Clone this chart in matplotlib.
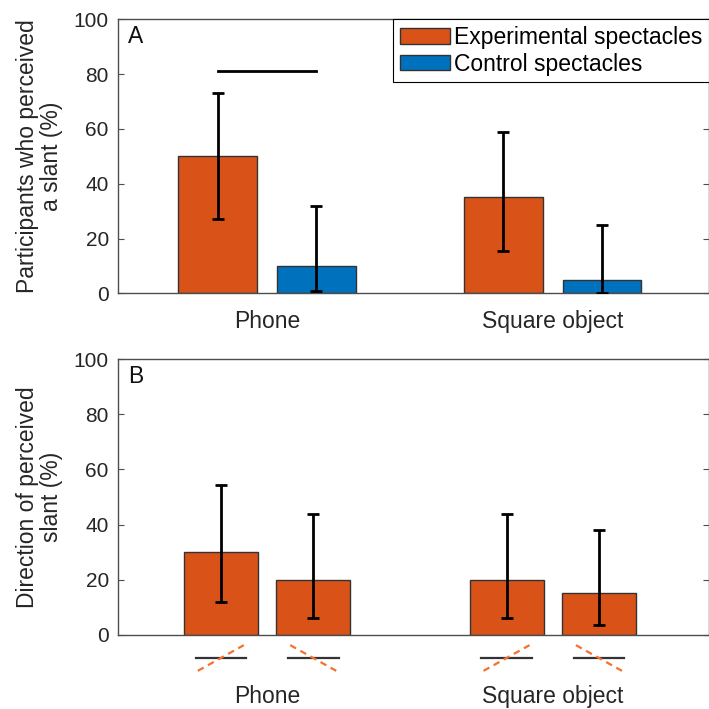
import matplotlib.pyplot as plt
from matplotlib.transforms import blended_transform_factory

plt.rcParams['font.family'] = ['Liberation Sans', 'DejaVu Sans']
plt.rcParams['font.size'] = 15

# data
categories = ['Phone', 'Square object']
group_pos = [1, 2]

# panel A - participants who perceived a slant (%)
exp_slant = [50, 35]
exp_slant_lo = [27, 15.5]
exp_slant_hi = [73, 59]
ctl_slant = [10, 5]
ctl_slant_lo = [1, 0.2]
ctl_slant_hi = [32, 25]
sig_level = 81

# panel B - direction of perceived slant (%), experimental spectacles only
dir_up = [30, 20]          # "/" direction
dir_up_lo = [12, 6]
dir_up_hi = [54.5, 44]
dir_down = [20, 15]        # "\" direction
dir_down_lo = [6, 3.5]
dir_down_hi = [44, 38]

orange = '#D95319'
blue = '#0072BD'
edge = '#333333'
spine_col = '#4d4d4d'
txt_col = '#262626'
big = 16.5


def style_axes(ax, label_pad):
    ax.set_ylim(0, 100)
    ax.set_yticks([0, 20, 40, 60, 80, 100])
    ax.set_xlim(0.48, 2.547)
    ax.set_xticks(group_pos)
    ax.set_xticklabels(categories, fontsize=big)
    ax.tick_params(axis='y', direction='in', length=4.3, width=0.8, color=spine_col,
                   right=True, pad=7, labelcolor=txt_col)
    ax.tick_params(axis='x', length=0, pad=label_pad, labelcolor=txt_col)
    for s in ax.spines.values():
        s.set_color(spine_col)
        s.set_linewidth(1.0)


def errbars(ax, x, y, lo, hi):
    yerr = [[v - l for v, l in zip(y, lo)], [h - v for v, h in zip(y, hi)]]
    ax.errorbar(x, y, yerr=yerr, fmt='none', ecolor='black', elinewidth=2,
                capsize=4, capthick=2, zorder=3)


fig = plt.figure(figsize=(7.09, 7.09), dpi=100)
axA = fig.add_axes([0.1671, 0.5863, 0.8329, 0.3865])
axB = fig.add_axes([0.1671, 0.1048, 0.8329, 0.3884])

# ---- panel A
offA = 0.1725
wA = 0.276
xa_exp = [g - offA for g in group_pos]
xa_ctl = [g + offA for g in group_pos]
axA.bar(xa_exp, exp_slant, width=wA, color=orange, edgecolor=edge, linewidth=1,
        label='Experimental spectacles', zorder=2)
axA.bar(xa_ctl, ctl_slant, width=wA, color=blue, edgecolor=edge, linewidth=1,
        label='Control spectacles', zorder=2)
errbars(axA, xa_exp, exp_slant, exp_slant_lo, exp_slant_hi)
errbars(axA, xa_ctl, ctl_slant, ctl_slant_lo, ctl_slant_hi)
axA.plot([xa_exp[0], xa_ctl[0]], [sig_level, sig_level], color='black', lw=2, zorder=3)
style_axes(axA, 12)
axA.set_ylabel('Participants who perceived\na slant (%)', color=txt_col,
               fontsize=big, linespacing=1.05)
axA.yaxis.set_label_coords(-0.094, 0.5)
axA.text(0.016, 0.979, 'A', transform=axA.transAxes, ha='left', va='top',
         color='#111111', fontsize=big)
leg = axA.legend(loc='upper right', bbox_to_anchor=(1.0, 1.0), borderaxespad=0,
                 fancybox=False, framealpha=1, edgecolor='black', fontsize=big,
                 handlelength=2.2, handleheight=0.65, handletextpad=0.15,
                 borderpad=0.3, labelspacing=0.15)
leg.get_frame().set_linewidth(0.8)

# ---- panel B
offB = 0.1617
wB = 0.259
xb_up = [g - offB for g in group_pos]
xb_down = [g + offB for g in group_pos]
axB.bar(xb_up, dir_up, width=wB, color=orange, edgecolor=edge, linewidth=1, zorder=2)
axB.bar(xb_down, dir_down, width=wB, color=orange, edgecolor=edge, linewidth=1, zorder=2)
errbars(axB, xb_up, dir_up, dir_up_lo, dir_up_hi)
errbars(axB, xb_down, dir_down, dir_down_lo, dir_down_hi)
style_axes(axB, 36)
axB.set_ylabel('Direction of perceived\nslant (%)', color=txt_col,
               fontsize=big, linespacing=1.05)
axB.yaxis.set_label_coords(-0.094, 0.5)
axB.text(0.016, 0.979, 'B', transform=axB.transAxes, ha='left', va='top',
         color='#111111', fontsize=big)

# slant direction icons below panel B bars
trans = blended_transform_factory(axB.transData, axB.transAxes)
icon_y = -0.0846
half_len = 0.0886
dash_dx = 0.0805
dash_dy = 0.0466
for xs, sign in [(xb_up, 1), (xb_down, -1)]:
    for x in xs:
        axB.plot([x - half_len, x + half_len], [icon_y, icon_y], color='#333333', lw=1.6,
                 transform=trans, clip_on=False, zorder=3)
        axB.plot([x - dash_dx, x + dash_dx],
                 [icon_y - sign * dash_dy, icon_y + sign * dash_dy],
                 color='#F5702F', lw=1.6, dashes=(3, 2.2), transform=trans,
                 clip_on=False, zorder=4)

fig.savefig('out.png', dpi=100)
